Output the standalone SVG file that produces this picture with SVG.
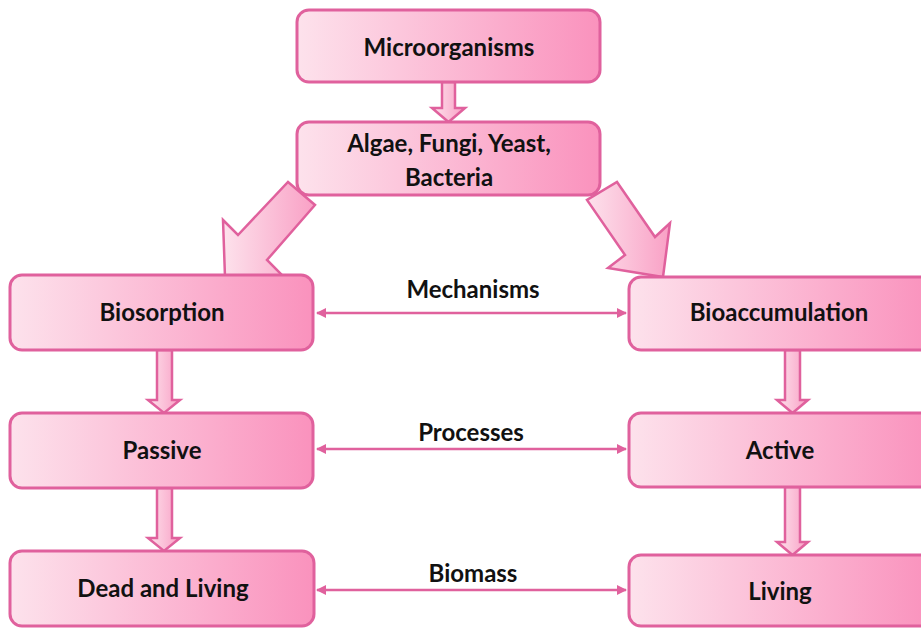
<svg xmlns="http://www.w3.org/2000/svg" width="921" height="628" viewBox="0 0 921 628">
<defs>
<linearGradient id="g" x1="0" y1="0" x2="1" y2="0">
<stop offset="0" stop-color="#fde2ec"/>
<stop offset="1" stop-color="#fa92bd"/>
</linearGradient>
<linearGradient id="ga" x1="0" y1="0" x2="1" y2="0">
<stop offset="0" stop-color="#fde2ec"/>
<stop offset="1" stop-color="#f9a0c5"/>
</linearGradient>
<marker id="ah" viewBox="0 0 10 10" refX="9" refY="5" markerWidth="4" markerHeight="4" orient="auto-start-reverse">
<path d="M0,0 L10,5 L0,10 z" fill="#e0619d"/>
</marker>
<style>
.box{fill:url(#g);stroke:#e0619d;stroke-width:3}
.arr{fill:url(#ga);stroke:#e0619d;stroke-width:2.5;stroke-linejoin:miter}
.t{font-family:Lato,"Open Sans","Liberation Sans",sans-serif;font-weight:bold;font-size:24px;fill:#111;text-anchor:middle}
.l{stroke:#e0619d;stroke-width:2.5;fill:none}
</style>
</defs>
<g id="connectors">
<polygon class="arr" points="442,82 455,82 455,108 465,108 448.5,122 432,108 442,108"/>
<polygon class="arr" points="157,350 172,350 172,400 180,400 164,413 148,400 157,400"/>
<polygon class="arr" points="157,488 172,488 172,538 180,538 164,551 148,538 157,538"/>
<polygon class="arr" points="785,350 800,350 800,400 808,400 792.5,413 777,400 785,400"/>
<polygon class="arr" points="785,487 800,487 800,542 808,542 792.5,555 777,542 785,542"/>
<polygon class="arr" points="288,182 315,205 267,260 282,275 225,277 223,220 238,235"/>
<polygon class="arr" points="617,182 655,237 670,223 663,277 608,268 625,255 587,200"/>
<line class="l" x1="317" y1="313" x2="626" y2="313" marker-start="url(#ah)" marker-end="url(#ah)"/>
<line class="l" x1="317" y1="449" x2="626" y2="449" marker-start="url(#ah)" marker-end="url(#ah)"/>
<line class="l" x1="317" y1="590" x2="626" y2="590" marker-start="url(#ah)" marker-end="url(#ah)"/>
<text class="t" x="473" y="298">Mechanisms</text>
<text class="t" x="471" y="441">Processes</text>
<text class="t" x="473" y="582">Biomass</text>
</g>
<g id="microorganisms">
<rect class="box" x="297" y="10" width="303" height="72" rx="12"/>
<text class="t" x="449" y="56">Microorganisms</text>
</g>
<g id="algae">
<rect class="box" x="297" y="122" width="303" height="73" rx="12"/>
<text class="t" x="449" y="152">Algae, Fungi, Yeast,</text>
<text class="t" x="449" y="186">Bacteria</text>
</g>
<g id="biosorption">
<rect class="box" x="10" y="275" width="303" height="75" rx="12"/>
<text class="t" x="162" y="321">Biosorption</text>
</g>
<g id="passive">
<rect class="box" x="10" y="413" width="303" height="75" rx="12"/>
<text class="t" x="162" y="459">Passive</text>
</g>
<g id="deadliving">
<rect class="box" x="10" y="551" width="304" height="75" rx="12"/>
<text class="t" x="163" y="597">Dead and Living</text>
</g>
<g id="bioaccumulation">
<rect class="box" x="629" y="277" width="303" height="73" rx="12"/>
<text class="t" x="779" y="321">Bioaccumulation</text>
</g>
<g id="active">
<rect class="box" x="629" y="413" width="303" height="74" rx="12"/>
<text class="t" x="780" y="459">Active</text>
</g>
<g id="living">
<rect class="box" x="629" y="555" width="303" height="71" rx="12"/>
<text class="t" x="780" y="600">Living</text>
</g>
</svg>
